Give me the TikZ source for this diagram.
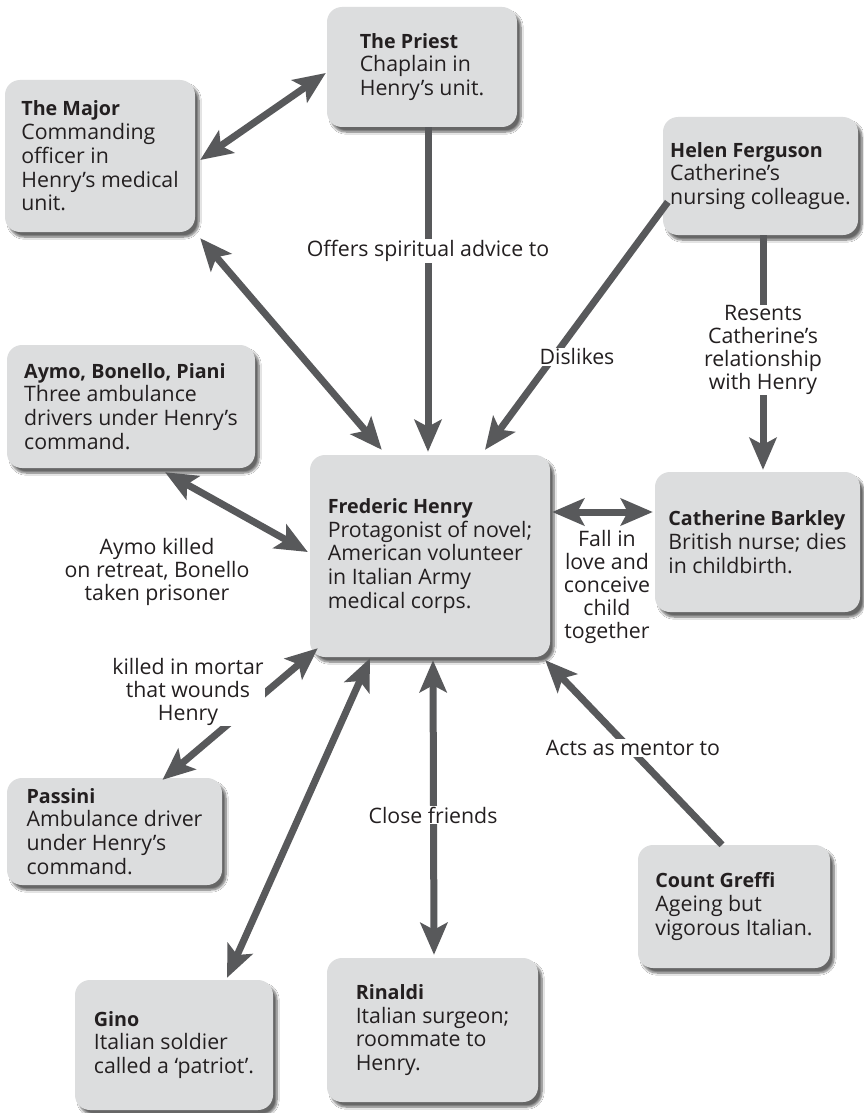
\documentclass[tikz,border=0pt]{standalone}
\usepackage{fontspec}
\setmainfont{Open Sans}
\usetikzlibrary{arrows.meta,shadows.blur,calc}
\definecolor{boxfill}{HTML}{DCDDDE}
\definecolor{arrowc}{HTML}{58595B}
\definecolor{txt}{HTML}{231F20}
\newcommand\ptitle[1]{{\bfseries\fontsize{19.7}{23.8}\selectfont #1}}
\begin{document}
\begin{tikzpicture}[x=1pt,y=-1pt,
  person/.style={draw=none, fill=boxfill, rounded corners=15pt, align=left, text=txt,
    font=\fontsize{21.3}{23.8}\selectfont,
    blur shadow={shadow xshift=4pt, shadow yshift=-5pt, shadow blur steps=8, shadow opacity=60}},
  tipa/.tip={Stealth[length=32pt,width=27pt,inset=7pt]},
  conn/.style={draw=arrowc, line width=7pt, -tipa},
  both/.style={draw=arrowc, line width=7pt, tipa-tipa},
  lbl/.style={fill=white, inner sep=1pt, align=center, text=txt,
    font=\fontsize{21.3}{22.8}\selectfont}]
\fill[white] (0,0) rectangle (863,1113);
\useasboundingbox (0,0) rectangle (863,1113);

% boxes
\node[person, minimum width=190pt, minimum height=120pt] (priest) at (422,67)
  {\ptitle{The Priest}\\Chaplain in\\Henry’s unit.};
\node[person, minimum width=190pt, minimum height=152pt] (major) at (100,156)
  {\ptitle{The Major}\\Commanding\\officer in\\Henry’s medical\\unit.};
\node[person, minimum width=195pt, minimum height=118pt] (helen) at (760.5,176)
  {\ptitle{Helen Ferguson}\\Catherine’s\\nursing colleague.};
\node[person, minimum width=248pt, minimum height=123pt] (aymo) at (131,406.5)
  {\ptitle{Aymo, Bonello, Piani}\\Three ambulance\\drivers under Henry’s\\command.};
\node[person, minimum width=240pt, minimum height=202pt] (henry) at (430,556)
  {\ptitle{Frederic Henry}\\Protagonist of novel;\\American volunteer\\in Italian Army\\medical corps.};
\node[person, minimum width=205pt, minimum height=140pt] (cath) at (757.5,542)
  {\ptitle{Catherine Barkley}\\British nurse; dies\\in childbirth.};
\node[person, minimum width=215pt, minimum height=107pt] (passini) at (114.5,831.5)
  {\ptitle{Passini}\\Ambulance driver\\under Henry’s\\command.};
\node[person, minimum width=192pt, minimum height=123pt] (greffi) at (734,906.5)
  {\ptitle{Count Greffi}\\Ageing but\\vigorous Italian.};
\node[person, minimum width=198pt, minimum height=130pt] (gino) at (174,1045)
  {\ptitle{Gino}\\Italian soldier\\called a ‘patriot’.};
\node[person, minimum width=211pt, minimum height=144pt] (rinaldi) at (432.5,1030)
  {\ptitle{Rinaldi}\\Italian surgeon;\\roommate to\\Henry.};

% connectors
\draw[both] ($(major.east)+(5,4)$) -- ($(priest.west)+(-1,6)$);
\draw[both] ($(major.south east)+(5,6)$) -- ($(henry.north west)+(72,-5)$);
\draw[conn] ($(priest.south)+(6,0)$) -- ($(henry.north)+(-2,-3)$);
\draw[conn] ($(helen.west)+(5,26)$) -- ($(henry.north)+(55,-5)$);
\draw[conn] ($(helen.south)+(2.5,0)$) -- ($(cath.north)+(5.5,-2)$);
\draw[both] ($(aymo.south)+(34,4)$) -- ($(henry.west)+(-2,-4)$);
\draw[both] ($(henry.east)+(2,-44)$) -- ($(cath.west)+(-2,-30)$);
\draw[both] ($(henry.south west)+(8,-9)$) -- ($(passini.north)+(48,2)$);
\draw[both] ($(henry.south)+(-60,1)$) -- ($(gino.north)+(53,-2)$);
\draw[both] ($(henry.south)+(3,3)$) -- ($(rinaldi.north)+(1.5,-3)$);
\draw[conn] ($(greffi.north)+(-12,0)$) -- ($(henry.south east)+(-5,3)$);

% labels
\node[lbl] (l1) at (428,251) {Offers spiritual advice to};
\node[lbl] (l2) at (577,357) {Dislikes};
\node[lbl] (l3) at (763,350) {Resents\\Catherine’s\\relationship\\with Henry};
\node[lbl] (l4) at (157,572) {Aymo killed\\on retreat, Bonello\\taken prisoner};
\node[lbl] (l5) at (607,587) {Fall in\\love and\\conceive\\child\\together};
\node[lbl] (l6) at (188,692) {killed in mortar\\that wounds\\Henry};
\node[lbl] (l7) at (433,815) {Close friends};
\node[lbl] (l8) at (633,748) {Acts as mentor to};
\end{tikzpicture}
\end{document}
